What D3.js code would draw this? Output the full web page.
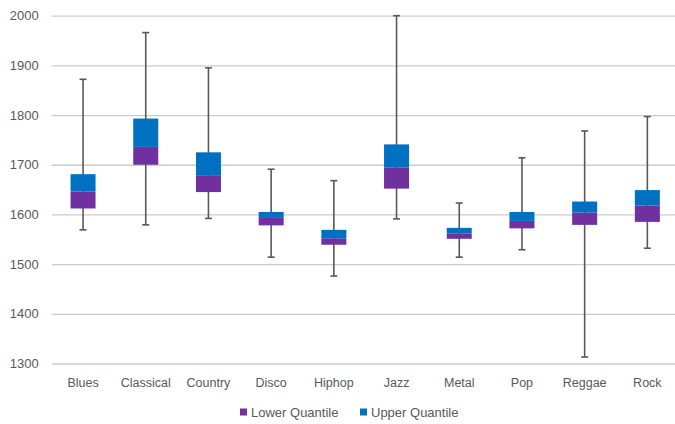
<!DOCTYPE html>
<html><head><meta charset="utf-8">
<script src="https://cdn.jsdelivr.net/npm/d3@7"></script>
<style>html,body{margin:0;padding:0;background:#fff;overflow:hidden}</style>
</head><body><svg id="c" width="675" height="424"></svg>
<script>
const categories = ["Blues","Classical","Country","Disco","Hiphop","Jazz","Metal","Pop","Reggae","Rock"];
const minVals    = [1569, 1579, 1592, 1514, 1476, 1591, 1514, 1529, 1313, 1532];
const q1Vals     = [1612, 1700, 1645, 1578, 1539, 1652, 1551, 1572, 1579, 1585];
const medianVals = [1646, 1736, 1679, 1593, 1552, 1694, 1562, 1587, 1604, 1618];
const q3Vals     = [1681, 1793, 1725, 1605, 1569, 1741, 1573, 1605, 1626, 1649];
const maxVals    = [1872, 1966, 1895, 1691, 1668, 2000, 1623, 1714, 1768, 1797];
const yTicks     = [1300, 1400, 1500, 1600, 1700, 1800, 1900, 2000];
const seriesNames = ["Lower Quantile", "Upper Quantile"];
const seriesColors = ["#7030A0", "#0070C0"];

const svg = d3.select("#c");
const font = "'Liberation Sans', Arial, sans-serif";
const textColor = "#595959";

const x = d3.scaleBand().domain(categories).range([51.7, 678.7]).paddingInner(0).paddingOuter(0);
const y = d3.scaleLinear().domain([1300, 2000]).range([363.5, 15.7]);

// gridlines
const yAxis = d3.axisLeft(y).tickValues(yTicks).tickSize(-(675 - 51.7)).tickFormat(d3.format("d")).tickPadding(13);
const gy = svg.append("g").attr("transform", "translate(51.7,0)").call(yAxis);
gy.select(".domain").remove();
gy.selectAll(".tick line").attr("stroke", "#cccccc").attr("stroke-width", 1.3);
gy.selectAll(".tick text").attr("fill", textColor).style("font-family", font).style("font-size", "13px");

// categories axis labels
const xAxis = d3.axisBottom(x).tickSize(0).tickPadding(0);
const gx = svg.append("g").attr("transform", "translate(0,378)").call(xAxis);
gx.select(".domain").remove();
gx.selectAll(".tick text").attr("fill", textColor).style("font-family", font).style("font-size", "12.5px");

const bw = 25;
const capW = 7;
const data = categories.map((c, i) => ({c, min: minVals[i], q1: q1Vals[i], med: medianVals[i], q3: q3Vals[i], max: maxVals[i]}));
const cx = d => x(d.c) + x.bandwidth() / 2;

const g = svg.append("g");
// whiskers
g.selectAll(".wh").data(data).join("line")
  .attr("x1", cx).attr("x2", cx)
  .attr("y1", d => y(d.max)).attr("y2", d => y(d.min))
  .attr("stroke", "#595959").attr("stroke-width", 1.6);
g.selectAll(".capT").data(data).join("line")
  .attr("x1", d => cx(d) - capW/2).attr("x2", d => cx(d) + capW/2)
  .attr("y1", d => y(d.max)).attr("y2", d => y(d.max))
  .attr("stroke", "#595959").attr("stroke-width", 1.6);
g.selectAll(".capB").data(data).join("line")
  .attr("x1", d => cx(d) - capW/2).attr("x2", d => cx(d) + capW/2)
  .attr("y1", d => y(d.min)).attr("y2", d => y(d.min))
  .attr("stroke", "#595959").attr("stroke-width", 1.6);

// lower quantile boxes
g.selectAll(".lo").data(data).join("rect")
  .attr("x", d => cx(d) - bw/2).attr("width", bw)
  .attr("y", d => y(d.med)).attr("height", d => y(d.q1) - y(d.med))
  .attr("fill", seriesColors[0]);
// upper quantile boxes
g.selectAll(".up").data(data).join("rect")
  .attr("x", d => cx(d) - bw/2).attr("width", bw)
  .attr("y", d => y(d.q3)).attr("height", d => y(d.med) - y(d.q3))
  .attr("fill", seriesColors[1]);

// legend
const legX = [240, 360];
const leg = svg.append("g");
seriesNames.forEach((n, i) => {
  leg.append("rect").attr("x", legX[i]).attr("y", 408.5).attr("width", 7).attr("height", 7).attr("fill", seriesColors[i]);
  leg.append("text").attr("x", legX[i] + 11).attr("y", 416.5).text(n)
    .attr("fill", textColor).style("font-family", font).style("font-size", "13px");
});
</script>
</body></html>
